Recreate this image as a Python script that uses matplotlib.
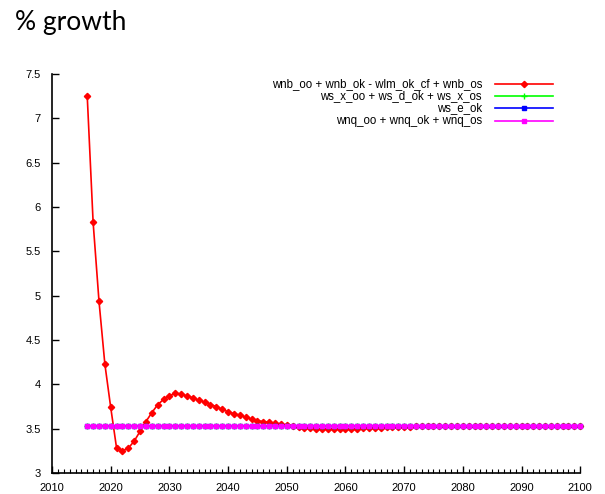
import matplotlib
matplotlib.use('Agg')
import matplotlib.pyplot as plt
from matplotlib.lines import Line2D
from matplotlib.ticker import MultipleLocator, FormatStrFormatter

plt.rcParams['font.family'] = ['Liberation Sans', 'DejaVu Sans']

# ---- data ----
years = list(range(2016, 2101))
red_vals = [7.25, 5.83, 4.94, 4.23, 3.74, 3.28, 3.25, 3.28, 3.36, 3.47,
            3.58, 3.68, 3.77, 3.83, 3.87, 3.90, 3.89, 3.87, 3.85, 3.82,
            3.80, 3.77, 3.75, 3.72, 3.69, 3.67, 3.65, 3.63, 3.61, 3.59,
            3.58, 3.57, 3.56, 3.55, 3.54, 3.53, 3.52, 3.51, 3.51, 3.50,
            3.50, 3.50, 3.50, 3.50, 3.50, 3.50, 3.50, 3.51, 3.51, 3.51,
            3.51, 3.52, 3.52, 3.52, 3.52, 3.52, 3.53, 3.53, 3.53, 3.53,
            3.53, 3.53, 3.53, 3.53, 3.53, 3.53, 3.53, 3.53, 3.53, 3.53,
            3.53, 3.53, 3.53, 3.53, 3.53, 3.53, 3.53, 3.53, 3.53, 3.53,
            3.53, 3.53, 3.53, 3.53, 3.53]
flat_val = 3.525
green_vals = [flat_val] * len(years)
blue_vals = [flat_val] * len(years)
magenta_vals = [flat_val] * len(years)

labels = ["wnb_oo + wnb_ok - wlm_ok_cf + wnb_os",
          "ws_x_oo + ws_d_ok + ws_x_os",
          "ws_e_ok",
          "wnq_oo + wnq_ok + wnq_os"]
colors = ['#ff0000', '#00ff00', '#0000ff', '#ff00ff']
markers = ['D', '+', 's', 's']
msizes = [3.2, 4.5, 3.0, 2.6]
series = [red_vals, green_vals, blue_vals, magenta_vals]

fig = plt.figure(figsize=(6.05, 4.94), dpi=100)
ax = fig.add_axes([0.086, 0.0425, 0.873, 0.8075])

for vals, c, m, ms in zip(series, colors, markers, msizes):
    ax.plot(years, vals, color=c, marker=m, markersize=ms, linewidth=1.2,
            markeredgewidth=1.0, clip_on=False)

ax.set_xlim(2010, 2100)
ax.set_ylim(3, 7.5)
ax.xaxis.set_major_locator(MultipleLocator(10))
ax.xaxis.set_minor_locator(MultipleLocator(1))
ax.yaxis.set_major_locator(MultipleLocator(0.5))
ax.yaxis.set_major_formatter(FormatStrFormatter('%g'))
ax.tick_params(axis='both', which='major', direction='in', length=5,
               width=1, labelsize=8, colors='black')
ax.tick_params(axis='x', which='minor', direction='in', length=3, width=0.8)
ax.tick_params(axis='x', pad=7)
ax.tick_params(axis='y', pad=8)
for s in ['top', 'right']:
    ax.spines[s].set_visible(False)
for s in ['left', 'bottom']:
    ax.spines[s].set_linewidth(1.2)

# legend drawn gnuplot-style: right-aligned text, sample on the right
row_y = [0.975, 0.945, 0.914, 0.882]
for lab, c, m, ms, y in zip(labels, colors, markers, msizes, row_y):
    ax.text(0.814, y, lab, transform=ax.transAxes, ha='right', va='center',
            fontsize=8.3)
    ax.add_line(Line2D([0.839, 0.949], [y, y], transform=ax.transAxes,
                       color=c, linewidth=1.2, clip_on=False))
    ax.add_line(Line2D([0.894], [y], transform=ax.transAxes, color=c,
                       marker=m, markersize=ms, markeredgewidth=1.0,
                       clip_on=False))

fig.text(0.025, 0.955, "% growth", fontsize=19, family=['Lato', 'DejaVu Sans'],
         ha='left', va='center')

fig.savefig('out.png', dpi=100, facecolor='white')
